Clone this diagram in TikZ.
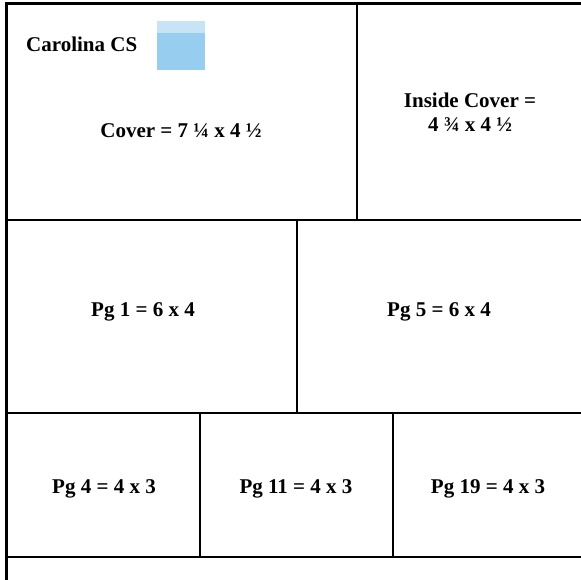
\documentclass[tikz,border=0pt]{standalone}
\usepackage{fontspec}
\setmainfont{Liberation Serif}
\definecolor{logotop}{HTML}{C6E4F6}
\definecolor{logomain}{HTML}{97CEF0}
\tikzset{
  lbl/.style={font=\fontsize{21}{24}\selectfont\bfseries, inner sep=0pt, align=center},
  thickline/.style={line width=3pt},
  thinline/.style={line width=1.3pt}
}
\begin{document}
\begin{tikzpicture}[x=1pt,y=-1pt]
\useasboundingbox (0,0) rectangle (581,580);
% logo
\fill[logomain] (157,21) rectangle (205,70);
\fill[logotop] (157,21) rectangle (205,33);
% inner lines
\draw[thinline] (7,220) -- (581,220);
\draw[thinline] (357,4) -- (357,220);
\draw[thinline] (7,413) -- (581,413);
\draw[thinline] (297,220) -- (297,413);
\draw[thinline] (7,557) -- (581,557);
\draw[thinline] (200,413) -- (200,557);
\draw[thinline] (393,413) -- (393,557);
% outer frame
\draw[thickline] (581,4) -- (6.5,4) -- (6.5,580);
% labels
\node[lbl, anchor=west] (logo) at (26,44) {Carolina CS};
\node[lbl] (cover) at (181,131) {Cover = 7 ¼ x 4 ½};
\node[lbl] (inside) at (470,112) {Inside Cover =\\4 ¾ x 4 ½};
\node[lbl] (pg1) at (143,312) {Pg 1 = 6 x 4};
\node[lbl] (pg5) at (439,312) {Pg 5 = 6 x 4};
\node[lbl] (pg4) at (104,489) {Pg 4 = 4 x 3};
\node[lbl] (pg11) at (296,489) {Pg 11 = 4 x 3};
\node[lbl] (pg19) at (488,489) {Pg 19 = 4 x 3};
\end{tikzpicture}
\end{document}
